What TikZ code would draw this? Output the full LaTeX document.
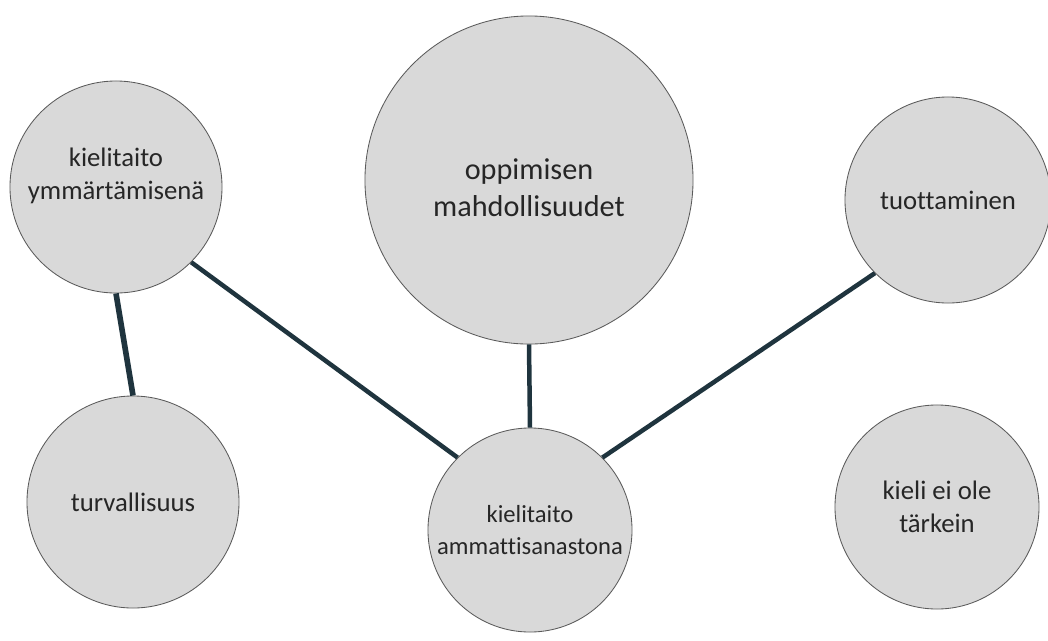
\documentclass[tikz,border=0pt]{standalone}
\usepackage{fontspec}
\setmainfont{Carlito}[Ligatures=NoCommon]
\definecolor{bubblegray}{RGB}{217,217,217}
\definecolor{rimgray}{RGB}{90,90,90}
\definecolor{textgray}{RGB}{38,38,38}
\definecolor{linkcol}{RGB}{31,52,62}
\tikzset{bubble/.style={circle,draw=rimgray,line width=0.6pt,fill=bubblegray,minimum size=#1,inner sep=0pt},
    txt/.style={text=textgray,align=center,font=\fontsize{19pt}{23.4pt}\selectfont},
    link/.style={draw=linkcol,line width=3.2pt}}

\begin{document}
\begin{tikzpicture}[x=0.025cm,y=-0.025cm]
    \useasboundingbox(0,0)rectangle(1048,640);

    \node[bubble=5.3cm,label={[txt,yshift=2.7mm]center:kielitaito\\ymmärtämisenä}](ymm)at(116,187){};
    \node[bubble=8.2cm,label={[txt,yshift=-2mm,font=\fontsize{21.5pt}{26.2pt}\selectfont]center:oppimisen\\mahdollisuudet}](opp)at(529,180){};
    \node[bubble=5.15cm,label={[txt]center:tuottaminen}](tuo)at(948,200){};
    \node[bubble=5.3cm,label={[txt]center:turvallisuus}](tur)at(133,502){};
    \node[bubble=5.1cm,label={[txt,font=\fontsize{17.5pt}{22.7pt}\selectfont]center:kielitaito\\ammattisanastona}](amm)at(530,530){};
    \node[bubble=5.1cm,label={[txt]center:kieli ei ole\\tärkein}](kie)at(937,507){};

    \draw[link,line width=4pt](ymm.south)--(tur.north);
    \draw[link](ymm.south east)--(amm.north west);
    \draw[link](opp.south)--(amm.north);
    \draw[link](tuo.south west)--(amm.north east);
\end{tikzpicture}
\end{document}
